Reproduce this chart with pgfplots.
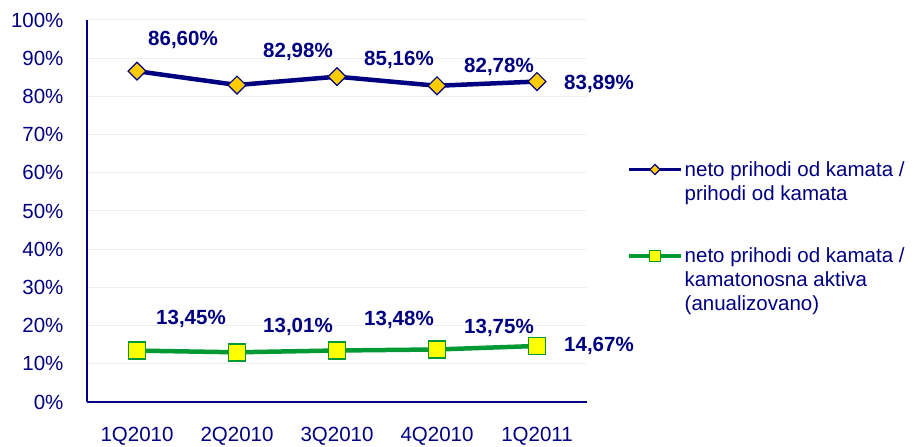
\documentclass[border=0pt]{standalone}
\usepackage{pgfplots}
\pgfplotsset{compat=1.18}
\usepackage{pgfplotstable}
\usepackage{fontspec}
\setmainfont{Liberation Sans}
\definecolor{navy}{HTML}{000080}
\definecolor{gold}{HTML}{FFCC00}
\definecolor{lgreen}{HTML}{009933}
\definecolor{lyellow}{HTML}{FFFF00}

\pgfplotstableread{
x y lab dx dy
0 86.60 86,60 46 31
1 82.98 82,98 61 33
2 85.16 85,16 62 17
3 82.78 82,78 62 19
4 83.89 83,89 62 -2
}\tableA
\pgfplotstableread{
x y lab dx dy
0 13.45 13,45 54 32
1 13.01 13,01 61 25
2 13.48 13,48 62 31
3 13.75 13,75 62 22
4 14.67 14,67 62 0
}\tableB

\begin{document}
\begin{tikzpicture}
\path[use as bounding box] (-87pt,-45pt) rectangle (829pt,402pt);
\begin{axis}[
  scale only axis, width=500pt, height=382pt, at={(0,0)}, anchor=south west,
  xmin=-0.5, xmax=4.5, ymin=0, ymax=100,
  xtick={0,...,4}, xticklabels={1Q2010,2Q2010,3Q2010,4Q2010,1Q2011},
  ytick={0,10,...,100},
  yticklabel={\pgfmathprintnumber{\tick}\%},
  axis x line*=bottom, axis y line*=left,
  axis line style={navy, line width=2pt, -},
  major tick length=0pt,
  ymajorgrids, grid style={color=black!6, line width=1pt},
  tick label style={font=\fontsize{20.5}{24}\selectfont, text=navy},
  /pgf/number format/assume math mode=true,
  yticklabel style={xshift=-20pt},
  xticklabel style={yshift=-22pt},
  clip=false,
  nodes near coords={\pgfplotspointmeta\%},
  point meta=explicit symbolic,
  nodes near coords align={center},
  visualization depends on={\thisrow{dx}\as\dx},
  visualization depends on={\thisrow{dy}\as\dy},
  every node near coord/.append style={anchor=center, xshift=\dx pt, yshift=\dy pt, font=\bfseries\fontsize{20.5}{24}\selectfont, text=navy},
  legend style={at={(1.074,0.641)}, anchor=north west, draw=none, fill=none,
     font=\fontsize{20.5}{24}\selectfont, text=navy, cells={align=left}, row sep=42pt},
  legend cell align=left,
  legend image code/.code={\draw[mark repeat=2,mark phase=2] plot coordinates {(0pt,0pt) (26pt,0pt) (52pt,0pt)};},
]
\addplot[navy, line width=4.5pt, mark=square*, mark size=6.3pt,
  mark options={rotate=45, fill=gold, draw=navy, line width=1.2pt},
  legend image post style={line width=3.5pt, mark size=3.6pt, yshift=12pt}]
  table[x=x, y=y, meta=lab]{\tableA};
\addlegendentry{neto prihodi od kamata /\\prihodi od kamata}
\addplot[lgreen, line width=4.5pt, mark=square*, mark size=8.5pt,
  mark options={fill=lyellow, draw=lgreen, line width=1.5pt},
  legend image post style={line width=3.5pt, mark size=5.5pt, yshift=24pt}]
  table[x=x, y=y, meta=lab]{\tableB};
\addlegendentry{neto prihodi od kamata /\\kamatonosna aktiva\\(anualizovano)}
\end{axis}
\end{tikzpicture}
\end{document}
